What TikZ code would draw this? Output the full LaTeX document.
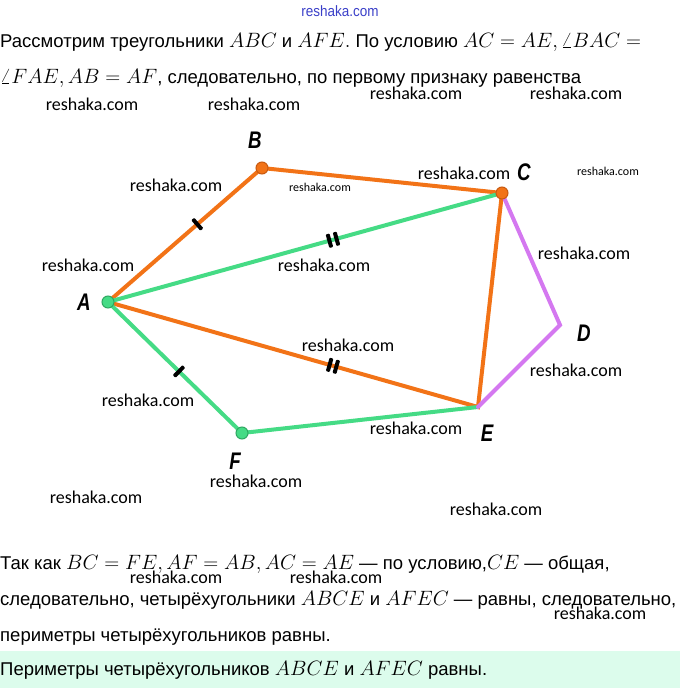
\documentclass[tikz,border=0pt]{standalone}
\usepackage{fontspec}
\setmainfont{Liberation Sans}
\newfontfamily\wmfont{Carlito}
\definecolor{segorange}{HTML}{F27317}
\definecolor{dotorange}{HTML}{C85A10}
\definecolor{seggreen}{HTML}{45DB85}
\definecolor{dotgreen}{HTML}{2FA862}
\definecolor{segviolet}{HTML}{D478F0}
\definecolor{answerbg}{HTML}{DCFCEC}
\definecolor{wmblue}{HTML}{3A3FC8}
\newcommand{\mth}[1]{{\fontsize{20.5}{24}\selectfont$#1$}}
\tikzset{
  seg/.style={line width=4pt, line cap=round},
  vdot/.style={circle, inner sep=0pt, minimum size=12pt, line width=1pt},
  vlabel/.style={font=\fontsize{24}{24}\selectfont\bfseries\itshape, inner sep=0pt, xscale=0.78},
  wm/.style={font=\wmfont\fontsize{18}{18}\selectfont, inner sep=0pt},
  wmsmall/.style={font=\wmfont\fontsize{12}{12}\selectfont, inner sep=0pt},
  txt/.style={anchor=base west, inner sep=0pt, font=\fontsize{18.5}{22}\selectfont},
  tickmark/.style={sloped, fill=black, inner sep=0pt, minimum width=4pt, minimum height=14pt, rounded corners=1pt},
}
\begin{document}
\begin{tikzpicture}[x=1pt,y=-1pt]

\useasboundingbox (0,0) rectangle (680,688);

% answer band
\fill[answerbg] (0,651) rectangle (680,688);

% text above
\node[txt] (t1) at (0,47) {Рассмотрим треугольники \mth{ABC} и \mth{AFE.} По условию \mth{AC=AE, \angle BAC=}};
\node[txt] (t2) at (0,83) {\mth{\angle FAE, AB=AF}, следовательно, по первому признаку равенства};

% vertices
\coordinate (A) at (108,302);
\coordinate (B) at (262,168);
\coordinate (C) at (502,193);
\coordinate (D) at (560,325);
\coordinate (E) at (478,407);
\coordinate (F) at (242,433);

% orange sides
\draw[seg, segorange] (A) -- (B) -- (C) -- (E) -- (A);
% green sides
\draw[seg, seggreen] (A) -- (C);
\draw[seg, seggreen] (A) -- (F) -- (E);
% violet sides
\draw[seg, segviolet] (C) -- (D) -- (E);

% equal marks
\path (A) -- (B) node[tickmark, pos=0.58] (mAB) {};
\path (A) -- (F) node[tickmark, pos=0.53] (mAF) {};
\path (A) -- (C) node[tickmark, pos=0.562] (mAC1) {}
                 node[tickmark, pos=0.580] (mAC2) {};
\path (A) -- (E) node[tickmark, pos=0.599] (mAE1) {}
                 node[tickmark, pos=0.617] (mAE2) {};

% points
\node[vdot, fill=seggreen, draw=dotgreen] (pA) at (A) {};
\node[vdot, fill=segorange, draw=dotorange] (pB) at (B) {};
\node[vdot, fill=segorange, draw=dotorange] (pC) at (C) {};
\node[vdot, fill=seggreen, draw=dotgreen] (pF) at (F) {};

% labels
\node[vlabel] (lA) at (84,302) {A};
\node[vlabel] (lB) at (255,140) {B};
\node[vlabel] (lC) at (524,172) {C};
\node[vlabel] (lD) at (584,333) {D};
\node[vlabel] (lE) at (487,433) {E};
\node[vlabel] (lF) at (235,461) {F};

% text below
\node[txt] (t3) at (0,569) {Так как \mth{BC=FE, AF=AB, AC=AE} — по условию,\mth{CE} — общая,};
\node[txt] (t4) at (0,605) {следовательно, четырёхугольники \mth{ABCE} и \mth{AFEC} — равны, следовательно,};
\node[txt] (t5) at (0,641) {периметры четырёхугольников равны.};
\node[txt] (t6) at (0,675) {Периметры четырёхугольников \mth{ABCE} и \mth{AFEC} равны.};

% watermarks
\node[font=\fontsize{15}{15}\selectfont, text=wmblue, inner sep=0pt, xscale=0.9] (w0) at (340,11) {reshaka.com};
\foreach \wx/\wy [count=\i] in {92/104, 254/104, 416/93, 576/93, 176/185, 464/173,
    88/265, 324/265, 584/253, 348/345, 576/370, 148/400, 416/428,
    256/481, 96/497, 496/509, 176/577, 336/577, 600/613}
  \node[wm] (w\i) at (\wx,\wy) {reshaka.com};
\node[wmsmall] (ws1) at (320,187) {reshaka.com};
\node[wmsmall] (ws2) at (608,171) {reshaka.com};

\end{tikzpicture}
\end{document}
